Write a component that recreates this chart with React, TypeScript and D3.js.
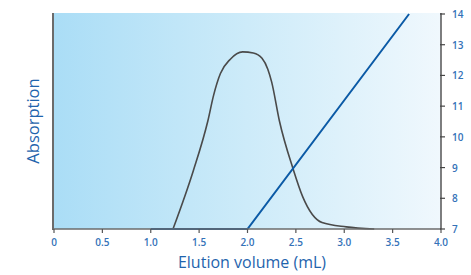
import * as d3 from 'd3';
import React from 'react';

// elution profile
const peakVolume = [1.23, 1.44, 1.59, 1.65, 1.72, 1.82, 1.95, 2.06, 2.15, 2.21, 2.25, 2.33, 2.47, 2.57, 2.77, 3.02, 3.31];
const peakAbs = [0, 27, 50, 62, 72, 78.5, 82, 81.5, 79, 74, 68, 50, 28, 15, 3, 1, 0];

const gradVolume = [1.0, 2.0, 3.67];
const gradValue = [7, 7, 14];

const xTicks = [0, 0.5, 1.0, 1.5, 2.0, 2.5, 3.0, 3.5, 4.0];
const yRightTicks = [7, 8, 9, 10, 11, 12, 13, 14];

export default function App() {
  const width = 471;
  const height = 275;
  const margin = { top: 13, right: 30, bottom: 46, left: 53 };
  const x0 = margin.left;
  const x1 = width - margin.right;
  const y0 = height - margin.bottom;
  const y1 = margin.top;

  const x = d3.scaleLinear().domain([0, 4]).range([x0 + 1, x1]);
  const yAbs = d3.scaleLinear().domain([0, 100]).range([y0, y1]);
  const yR = d3.scaleLinear().domain([7, 14]).range([y0, y1 + 1]);

  const peakLine = d3
    .line<number>()
    .x((_, i) => x(peakVolume[i]))
    .y(d => yAbs(d))
    .curve(d3.curveMonotoneX);

  const gradLine = d3
    .line<number>()
    .x((_, i) => x(gradVolume[i]))
    .y(d => yR(d));

  const blue = '#3472b8';
  const font = '"Open Sans", "Noto Sans", sans-serif';

  return (
    <svg width={width} height={height} style={{ position: 'absolute', left: 0, top: 0 }}>
      <defs>
        <linearGradient id="bg" x1="0" x2="1" y1="0" y2="0">
          <stop offset="0" stopColor="#aaddf6" />
          <stop offset="0.5" stopColor="#cdebf9" />
          <stop offset="1" stopColor="#f0f8fd" />
        </linearGradient>
      </defs>
      <rect x={x0} y={y1} width={x1 - x0} height={y0 - y1} fill="url(#bg)" />

      {/* absorption peak */}
      <path d={peakLine(peakAbs) ?? ''} fill="none" stroke="#4a4a4a" strokeWidth={1.6} />

      {/* gradient */}
      <path d={gradLine(gradValue) ?? ''} fill="none" stroke="#0b5aa6" strokeWidth={2} />

      {/* left axis */}
      <line x1={x0} x2={x0} y1={y1} y2={y0 + 1} stroke="#6b6b6b" strokeWidth={2} />
      {/* bottom axis */}
      <line x1={x0} x2={x1} y1={y0} y2={y0} stroke="#6b6b6b" strokeWidth={1.5} />
      {xTicks.map(t => (
        <g key={t}>
          <line x1={x(t)} x2={x(t)} y1={y0} y2={y0 + 4} stroke="#555" strokeWidth={1.2} />
          <text
            x={x(t)}
            y={y0 + 17}
            textAnchor="middle"
            fontSize={10}
            fontWeight={600}
            fill={blue}
            fontFamily={font}
          >
            {t === 0 ? '0' : t.toFixed(1)}
          </text>
        </g>
      ))}

      {/* right axis */}
      <line x1={x1} x2={x1} y1={y1} y2={y0} stroke="#555" strokeWidth={1.5} />
      {yRightTicks.map(t => (
        <g key={t}>
          <line x1={x1 - 1} x2={x1 + 4} y1={yR(t)} y2={yR(t)} stroke="#444" strokeWidth={1.2} />
          <text
            x={x1 + 11}
            y={yR(t) + 4}
            fontSize={10}
            fontWeight={600}
            fill={blue}
            fontFamily={font}
          >
            {t}
          </text>
        </g>
      ))}

      <text
        x={(x0 + x1) / 2 + 5}
        y={height - 7}
        textAnchor="middle"
        fontSize={16}
        fill="#1f64ad"
        fontFamily={font}
      >
        Elution volume (mL)
      </text>
      <text
        transform={`translate(39,${(y0 + y1) / 2}) rotate(-90)`}
        textAnchor="middle"
        fontSize={16.5}
        fill="#1f64ad"
        fontFamily={font}
      >
        Absorption
      </text>
    </svg>
  );
}
